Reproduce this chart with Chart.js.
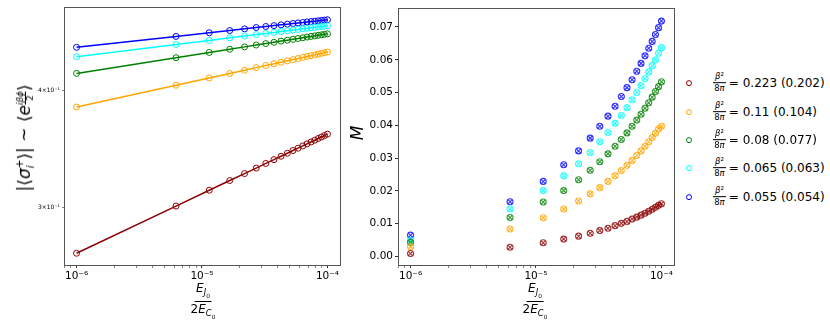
<!DOCTYPE html>
<html>
<head>
<meta charset="utf-8">
<script src="https://cdn.jsdelivr.net/npm/chart.js@4.4.1/dist/chart.umd.min.js"></script>
<style>
    body { margin: 0; background: #fff; }
    #wrap { position: relative; width: 830px; height: 323px; font-family: "DejaVu Sans", sans-serif; color: #000; }
    .pane { position: absolute; top: 0; }
    .ytitle { position: absolute; white-space: nowrap; transform: translate(-50%, -50%) rotate(-90deg); font-size: 17px; }
    .xtitle { position: absolute; transform: translateX(-50%); font-size: 12px; }
    .frac { display: inline-flex; flex-direction: column; align-items: center; vertical-align: middle; line-height: 1.1; }
    .frac > span:first-child { border-bottom: 1px solid #000; padding: 0 2px 1px 2px; }
    .frac > span:last-child { padding-top: 1px; }
    .ss { display: inline-flex; flex-direction: column; font-size: 0.62em; line-height: 1.05; vertical-align: middle; }
    .supfrac { display: inline-flex; flex-direction: column; align-items: center; font-size: 0.52em; line-height: 1.05; vertical-align: 0.85em; }
    .supfrac > span:first-child { border-bottom: 1px solid #000; }
    sub { font-size: 0.7em; }
    .leg { position: absolute; left: 686px; white-space: nowrap; display: flex; align-items: center; font-size: 12px; transform: translateY(-50%); }
    .leg .dot { width: 6px; height: 6px; border-radius: 50%; border: 1px solid; box-sizing: border-box; margin-right: 21px; }
    .leg .frac { font-size: 8.5px; margin-right: 3px; }
</style>
</head>
<body>
<div id="wrap">
    <div class="pane" style="left:0"><canvas id="ampChart" width="345" height="323"></canvas></div>
    <div class="pane" style="left:345px"><canvas id="magChart" width="335" height="323"></canvas></div>

    <div class="ytitle" style="left:25px; top:138px">|⟨<i>σ</i><span class="ss"><span>+</span><span><i>i</i></span></span>⟩| ~ ⟨<i>e</i><span class="supfrac"><span><i>iβϕ</i></span><span>2</span></span>⟩</div>
    <div class="ytitle" style="left:357px; top:133px"><i>M</i></div>

    <div class="xtitle" style="left:203px; top:282px"><span class="frac"><span><i>E</i><sub><i>J</i><sub>0</sub></sub></span><span>2<i>E</i><sub><i>C</i><sub>0</sub></sub></span></span></div>
    <div class="xtitle" style="left:535px; top:282px"><span class="frac"><span><i>E</i><sub><i>J</i><sub>0</sub></sub></span><span>2<i>E</i><sub><i>C</i><sub>0</sub></sub></span></span></div>

    <div id="legend"></div>
</div>
<script>
// x positions (E_J0 / 2E_C0)
const xVals = [1.0e-6, 6.21e-6, 1.142e-5, 1.663e-5, 2.184e-5, 2.705e-5, 3.226e-5, 3.747e-5, 4.268e-5, 4.789e-5,
    5.311e-5, 5.832e-5, 6.353e-5, 6.874e-5, 7.395e-5, 7.916e-5, 8.437e-5, 8.958e-5, 9.479e-5, 1.0e-4];

// left panel: |<sigma+>|
const ampRed = [0.2684, 0.3012, 0.3131, 0.3206, 0.3261, 0.3305, 0.3343, 0.3374, 0.3402, 0.3427,
    0.3450, 0.3470, 0.3489, 0.3507, 0.3523, 0.3538, 0.3553, 0.3566, 0.3579, 0.3591];
const ampOrange = [0.3837, 0.4047, 0.4120, 0.4165, 0.4198, 0.4225, 0.4247, 0.4265, 0.4281, 0.4296,
    0.4309, 0.4321, 0.4332, 0.4342, 0.4351, 0.4359, 0.4368, 0.4375, 0.4383, 0.4389];
const ampGreen = [0.4166, 0.4329, 0.4385, 0.4419, 0.4445, 0.4465, 0.4481, 0.4495, 0.4508, 0.4518,
    0.4528, 0.4537, 0.4545, 0.4553, 0.4560, 0.4566, 0.4572, 0.4578, 0.4584, 0.4589];
const ampCyan = [0.4339, 0.4471, 0.4516, 0.4545, 0.4565, 0.4581, 0.4594, 0.4605, 0.4615, 0.4624,
    0.4632, 0.4639, 0.4646, 0.4651, 0.4657, 0.4662, 0.4668, 0.4672, 0.4676, 0.4680];
const ampBlue = [0.4440, 0.4560, 0.4601, 0.4626, 0.4645, 0.4660, 0.4672, 0.4682, 0.4691, 0.4699,
    0.4706, 0.4713, 0.4718, 0.4724, 0.4729, 0.4733, 0.4738, 0.4742, 0.4746, 0.4750];

// right panel: M
const magRed = [0.0009, 0.0028, 0.0042, 0.0053, 0.0062, 0.0071, 0.0079, 0.0086, 0.0094, 0.0101,
    0.0107, 0.0114, 0.0120, 0.0126, 0.0132, 0.0138, 0.0144, 0.0150, 0.0156, 0.0161];
const magOrange = [0.0030, 0.0084, 0.0118, 0.0145, 0.0169, 0.0191, 0.0210, 0.0229, 0.0246, 0.0262,
    0.0278, 0.0293, 0.0308, 0.0322, 0.0336, 0.0350, 0.0363, 0.0376, 0.0389, 0.0397];
const magGreen = [0.0043, 0.0119, 0.0166, 0.0201, 0.0234, 0.0263, 0.0289, 0.0313, 0.0336, 0.0357,
    0.0377, 0.0397, 0.0416, 0.0434, 0.0452, 0.0469, 0.0486, 0.0503, 0.0518, 0.0533];
const magCyan = [0.0049, 0.0145, 0.0201, 0.0246, 0.0283, 0.0317, 0.0350, 0.0378, 0.0406, 0.0430,
    0.0454, 0.0478, 0.0500, 0.0521, 0.0543, 0.0563, 0.0582, 0.0600, 0.0620, 0.0637];
const magBlue = [0.0065, 0.0167, 0.0229, 0.0280, 0.0322, 0.0361, 0.0397, 0.0428, 0.0458, 0.0488,
    0.0515, 0.0539, 0.0565, 0.0589, 0.0612, 0.0635, 0.0656, 0.0677, 0.0698, 0.0718];

const betaVals = ["0.223", "0.11", "0.08", "0.065", "0.055"];
const fitVals = ["0.202", "0.104", "0.077", "0.063", "0.054"];
const seriesColors = ["#8b0000", "#ffa500", "#008000", "#00ffff", "#0000ff"];

const xMajorTicks = [1e-6, 1e-5, 1e-4];
const xTickLabels = ["10⁻⁶", "10⁻⁵", "10⁻⁴"];
const ampTicks = [0.3, 0.4];
const ampTickLabels = ["3×10⁻¹", "4×10⁻¹"];
const magTicks = [0, 0.01, 0.02, 0.03, 0.04, 0.05, 0.06, 0.07];

const ampSeries = [ampRed, ampOrange, ampGreen, ampCyan, ampBlue];
const magSeries = [magRed, magOrange, magGreen, magCyan, magBlue];

const FONT = "DejaVu Sans";
const X_MIN = Math.pow(10, -6.1);
const X_MAX = Math.pow(10, -3.9);

// log x ticks: majors plus the minor 2..9 marks inside the range
const xAllTicks = [];
for (let e = -7; e <= -4; e++) {
    for (let k = 1; k <= 9; k++) {
        const v = k * Math.pow(10, e);
        if (v >= X_MIN && v <= X_MAX) xAllTicks.push(v);
    }
}
const isNear = (a, b) => Math.abs(a - b) / b < 1e-6;
const xLabel = (v) => {
    const i = xMajorTicks.findIndex((m) => isNear(v, m));
    return i >= 0 ? xTickLabels[i] : "";
};
const toXY = (arr) => xVals.map((x, i) => ({ x: x, y: arr[i] }));
const alpha = (hex, a) => {
    const n = parseInt(hex.slice(1), 16);
    return `rgba(${(n >> 16) & 255}, ${(n >> 8) & 255}, ${n & 255}, ${a})`;
};

// draws the box round the plot area, like matplotlib spines
const framePlugin = {
    id: "frame",
    afterDraw(chart) {
        const a = chart.chartArea;
        const ctx = chart.ctx;
        ctx.save();
        ctx.strokeStyle = "#555";
        ctx.lineWidth = 1;
        ctx.strokeRect(Math.round(a.left) + 0.5, Math.round(a.top) + 0.5,
            Math.round(a.right - a.left), Math.round(a.bottom - a.top));
        ctx.restore();
    },
};

const xScale = {
    type: "logarithmic",
    min: X_MIN,
    max: X_MAX,
    afterBuildTicks: (s) => { s.ticks = xAllTicks.map((v) => ({ value: v })); },
    afterFit: (s) => { s.height = 58; },
    ticks: {
        autoSkip: false, maxRotation: 0, padding: 2, color: "#000",
        font: { family: FONT, size: 10.5 },
        callback: (v) => xLabel(v),
    },
    grid: {
        drawOnChartArea: false, tickLength: 3,
        tickColor: "#333",
        tickWidth: (c) => (xLabel(c.tick.value) ? 1 : 0.6),
    },
    border: { display: false },
};

// left: log-log lines with open circles
new Chart(document.getElementById("ampChart"), {
    type: "line",
    data: {
        datasets: ampSeries.map((arr, i) => ({
            data: toXY(arr),
            borderColor: seriesColors[i],
            borderWidth: 1.5,
            pointStyle: "circle",
            pointRadius: 3,
            pointBorderWidth: 1,
            pointBorderColor: seriesColors[i],
            pointBackgroundColor: "transparent",
            tension: 0,
        })),
    },
    options: {
        responsive: false,
        animation: false,
        layout: { padding: { left: 0, right: 3, top: 7, bottom: 0 } },
        plugins: { legend: { display: false }, tooltip: { enabled: false } },
        scales: {
            x: xScale,
            y: {
                type: "logarithmic",
                min: 0.2608,
                max: 0.49,
                afterBuildTicks: (s) => { s.ticks = ampTicks.map((v) => ({ value: v })); },
                afterFit: (s) => { s.width = 64; },
                ticks: {
                    autoSkip: false, padding: 2, color: "#000",
                    font: { family: FONT, size: 6 },
                    callback: (v) => ampTickLabels[ampTicks.findIndex((t) => isNear(v, t))] || "",
                },
                grid: { drawOnChartArea: false, tickLength: 2, tickColor: "#333", tickWidth: 0.6 },
                border: { display: false },
            },
        },
    },
    plugins: [framePlugin],
});

// right: M, open circle with an x on top
const magDatasets = [];
magSeries.forEach((arr, i) => {
    ["circle", "crossRot"].forEach((style) => {
        magDatasets.push({
            data: toXY(arr),
            showLine: false,
            pointStyle: style,
            pointRadius: 3,
            pointBorderWidth: 1.1,
            pointBorderColor: alpha(seriesColors[i], 0.8),
            pointBackgroundColor: "transparent",
        });
    });
});

new Chart(document.getElementById("magChart"), {
    type: "scatter",
    data: { datasets: magDatasets },
    options: {
        responsive: false,
        animation: false,
        layout: { padding: { left: 0, right: 6, top: 8, bottom: 0 } },
        plugins: { legend: { display: false }, tooltip: { enabled: false } },
        scales: {
            x: xScale,
            y: {
                type: "linear",
                min: -0.0026,
                max: 0.0757,
                afterBuildTicks: (s) => { s.ticks = magTicks.map((v) => ({ value: v })); },
                afterFit: (s) => { s.width = 53; },
                ticks: {
                    autoSkip: false, padding: 2, color: "#000",
                    font: { family: FONT, size: 10.5 },
                    callback: (v) => v.toFixed(2),
                },
                grid: { drawOnChartArea: false, tickLength: 3, tickColor: "#333" },
                border: { display: false },
            },
        },
    },
    plugins: [framePlugin],
});

// legend (outside the right panel)
const legendTop = [83, 112, 140, 168, 197];
const legend = document.getElementById("legend");
betaVals.forEach((b, i) => {
    const row = document.createElement("div");
    row.className = "leg";
    row.style.top = legendTop[i] + "px";
    row.innerHTML = `<span class="dot" style="border-color:${seriesColors[i]}"></span>` +
        `<span class="frac"><span><i>β</i>²</span><span>8<i>π</i></span></span>` +
        `<span>= ${b} (${fitVals[i]})</span>`;
    legend.appendChild(row);
});
</script>
</body>
</html>
